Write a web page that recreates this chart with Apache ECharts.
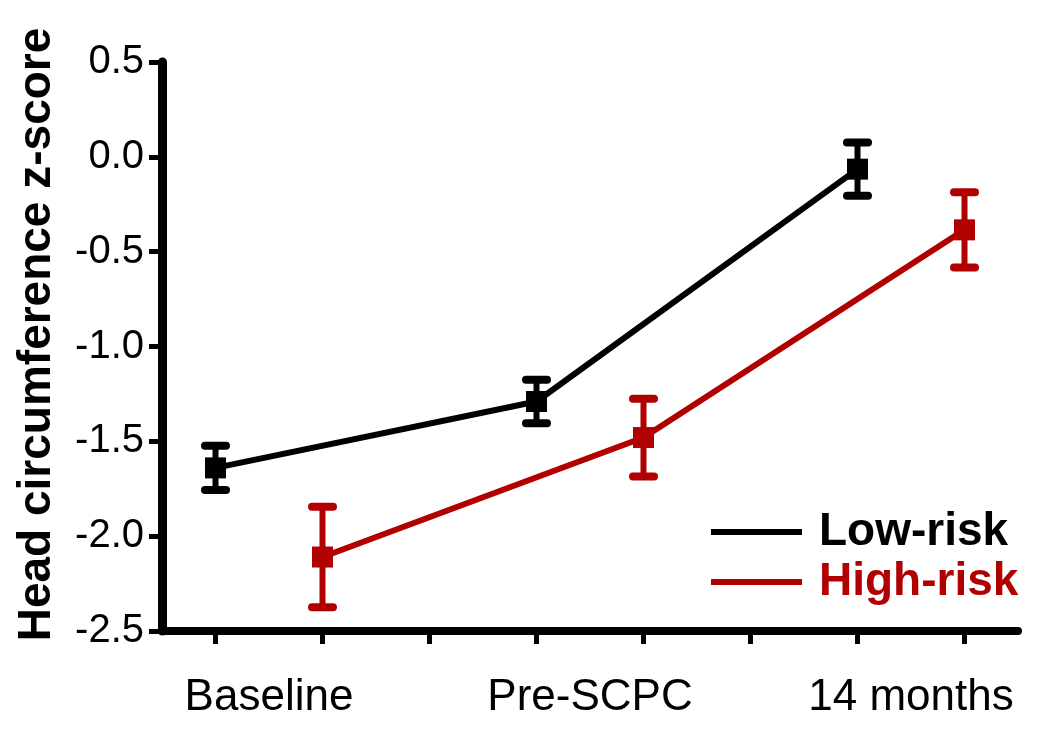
<!DOCTYPE html>
<html>
<head>
<meta charset="utf-8">
<script src="https://cdn.jsdelivr.net/npm/echarts@6/dist/echarts.min.js"></script>
<style>
html,body{margin:0;padding:0;background:#fff;}
#chart{width:1050px;height:737px;}
</style>
</head>
<body>
<div id="chart"></div>
<script>
var categories = ['Baseline', 'Pre-SCPC', '14 months'];
var lowRisk = [-1.64, -1.29, -0.065];
var lowRiskErr = [0.117, 0.115, 0.14];
var highRisk = [-2.11, -1.48, -0.385];
var highRiskErr = [0.265, 0.205, 0.198];
var yTicks = [-2.5, -2.0, -1.5, -1.0, -0.5, 0.0, 0.5];

var BLACK = '#000000';
var RED = '#b00000';
var FONT = 'Liberation Sans, Arial, sans-serif';

// x positions: low-risk at 3i+1, high-risk at 3i+2
function pts(vals, off) {
  return vals.map(function (v, i) { return [3 * i + off, v]; });
}
function errPts(vals, errs, off) {
  return vals.map(function (v, i) { return [3 * i + off, v, errs[i]]; });
}

function renderErr(color) {
  return function (params, api) {
    var x = api.value(0), y = api.value(1), e = api.value(2);
    var top = api.coord([x, y + e]);
    var bot = api.coord([x, y - e]);
    var hw = 10.5;
    var st = { stroke: color, lineWidth: 6, lineCap: 'butt' };
    var cs = { stroke: color, lineWidth: 8, lineCap: 'round' };
    return {
      type: 'group',
      children: [
        { type: 'line', shape: { x1: top[0], y1: top[1], x2: bot[0], y2: bot[1] }, style: st },
        { type: 'line', shape: { x1: top[0] - hw, y1: top[1], x2: top[0] + hw, y2: top[1] }, style: cs },
        { type: 'line', shape: { x1: bot[0] - hw, y1: bot[1], x2: bot[0] + hw, y2: bot[1] }, style: cs }
      ]
    };
  };
}

var tickPositions = [];
for (var i = 0; i < categories.length; i++) { tickPositions.push(3 * i + 1, 3 * i + 2); if (i < categories.length - 1) tickPositions.push(3 * i + 3); }
var labelPositions = categories.map(function (c, i) { return 3 * i + 1.5; });

var chart = echarts.init(document.getElementById('chart'), null, { renderer: 'canvas' });
chart.setOption({
  backgroundColor: '#ffffff',
  animation: false,
  grid: { left: 162, right: 32, top: 62, bottom: 106, containLabel: false, outerBoundsMode: 'none' },
  xAxis: {
    type: 'value',
    min: 0.5,
    max: 8.5,
    splitLine: { show: false },
    axisLine: { show: true, onZero: false, lineStyle: { color: BLACK, width: 8 } },
    axisTick: { show: true, customValues: tickPositions, length: 13, lineStyle: { color: BLACK, width: 5 } },
    axisLabel: {
      customValues: labelPositions,
      formatter: function (v) { return categories[Math.round((v - 1.5) / 3)]; },
      margin: 45,
      color: BLACK,
      fontFamily: FONT,
      fontSize: 44
    }
  },
  yAxis: {
    type: 'value',
    min: yTicks[0],
    max: yTicks[yTicks.length - 1],
    interval: 0.5,
    splitLine: { show: false },
    axisLine: { show: true, onZero: false, lineStyle: { color: BLACK, width: 9 } },
    axisTick: { show: true, length: 13, lineStyle: { color: BLACK, width: 5 } },
    axisLabel: {
      margin: 18,
      color: BLACK,
      fontFamily: FONT,
      fontSize: 40,
      formatter: function (v) { return v.toFixed(1); }
    },
    name: 'Head circumference z-score',
    nameLocation: 'middle',
    nameRotate: 90,
    nameGap: 102,
    nameTextStyle: { color: BLACK, fontFamily: FONT, fontSize: 46, fontWeight: 'bold', padding: [0, 0, 0, 24] }
  },
  legend: {
    orient: 'vertical',
    left: 706,
    top: 504,
    itemWidth: 91,
    itemHeight: 6,
    itemGap: 4,
    icon: 'rect',
    textStyle: { fontFamily: FONT, fontSize: 46, fontWeight: 'bold', lineHeight: 46, padding: [0, 0, 0, 12] },
    data: [
      { name: 'Low-risk', textStyle: { color: BLACK } },
      { name: 'High-risk', textStyle: { color: RED } }
    ]
  },
  series: [
    {
      name: 'Low-risk', type: 'line', data: pts(lowRisk, 1),
      color: BLACK,
      lineStyle: { color: BLACK, width: 6 },
      itemStyle: { color: BLACK },
      symbol: 'rect', symbolSize: 21, z: 3
    },
    {
      name: 'High-risk', type: 'line', data: pts(highRisk, 2),
      color: RED,
      lineStyle: { color: RED, width: 6 },
      itemStyle: { color: RED },
      symbol: 'rect', symbolSize: 21, z: 3
    },
    {
      name: 'Low-risk SEM', type: 'custom', data: errPts(lowRisk, lowRiskErr, 1),
      renderItem: renderErr(BLACK), z: 4,
      encode: { x: 0, y: 1 }
    },
    {
      name: 'High-risk SEM', type: 'custom', data: errPts(highRisk, highRiskErr, 2),
      renderItem: renderErr(RED), z: 4,
      encode: { x: 0, y: 1 }
    }
  ]
});
</script>
</body>
</html>
